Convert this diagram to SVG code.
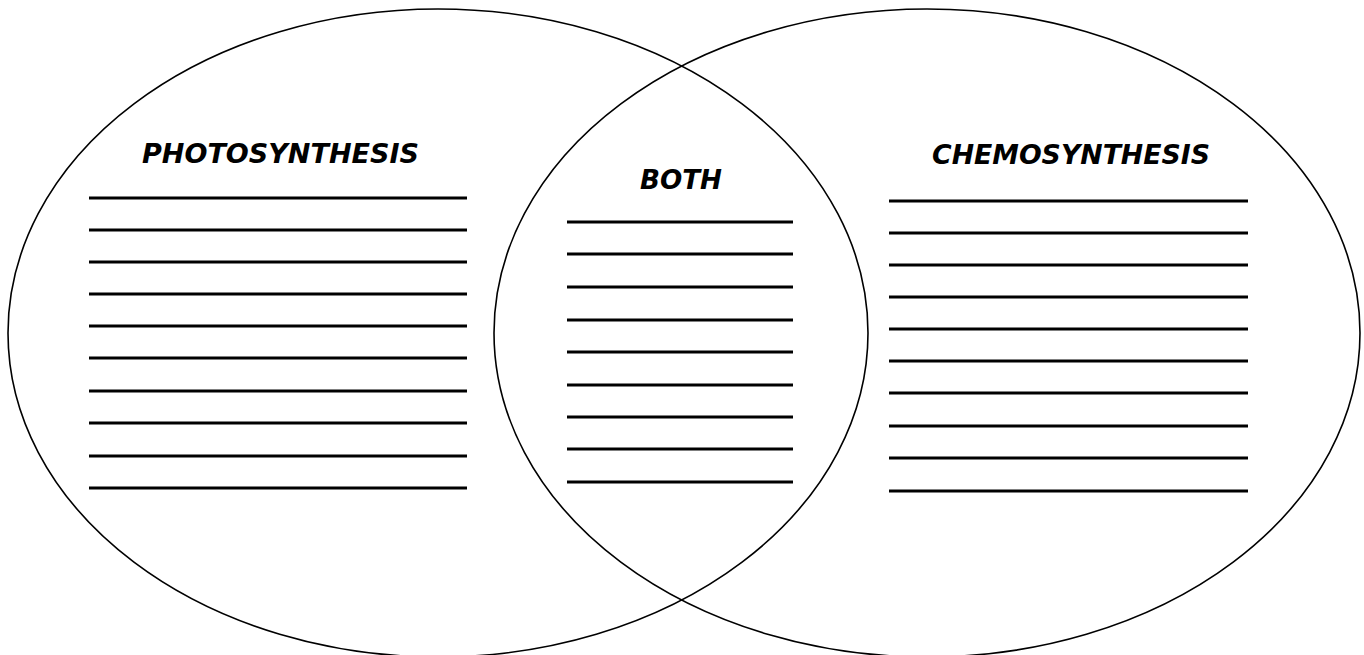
<svg xmlns="http://www.w3.org/2000/svg" width="1364" height="655" viewBox="0 0 1364 655">
<style>
.circ{fill:none;stroke:#000;stroke-width:1.6}
.ln{stroke:#000;stroke-width:3}
.lbl{font-family:"DejaVu Sans","Verdana",sans-serif;font-weight:bold;font-style:italic;font-size:27px;fill:#000}
</style>
<rect width="1364" height="655" fill="#fff"/>
<g id="photosynthesis">
<ellipse class="circ" cx="438" cy="333" rx="430" ry="324"/>
<text class="lbl" x="142" y="163" textLength="277" lengthAdjust="spacingAndGlyphs">PHOTOSYNTHESIS</text>
<g class="ln">
<line x1="89" y1="198" x2="467" y2="198"/>
<line x1="89" y1="230" x2="467" y2="230"/>
<line x1="89" y1="262" x2="467" y2="262"/>
<line x1="89" y1="294" x2="467" y2="294"/>
<line x1="89" y1="326" x2="467" y2="326"/>
<line x1="89" y1="358" x2="467" y2="358"/>
<line x1="89" y1="391" x2="467" y2="391"/>
<line x1="89" y1="423" x2="467" y2="423"/>
<line x1="89" y1="456" x2="467" y2="456"/>
<line x1="89" y1="488" x2="467" y2="488"/>
</g>
</g>
<g id="chemosynthesis">
<ellipse class="circ" cx="927" cy="333" rx="433" ry="324"/>
<text class="lbl" x="932" y="164" textLength="278" lengthAdjust="spacingAndGlyphs">CHEMOSYNTHESIS</text>
<g class="ln">
<line x1="889" y1="201" x2="1248" y2="201"/>
<line x1="889" y1="233" x2="1248" y2="233"/>
<line x1="889" y1="265" x2="1248" y2="265"/>
<line x1="889" y1="297" x2="1248" y2="297"/>
<line x1="889" y1="329" x2="1248" y2="329"/>
<line x1="889" y1="361" x2="1248" y2="361"/>
<line x1="889" y1="393" x2="1248" y2="393"/>
<line x1="889" y1="426" x2="1248" y2="426"/>
<line x1="889" y1="458" x2="1248" y2="458"/>
<line x1="889" y1="491" x2="1248" y2="491"/>
</g>
</g>
<g id="both">
<text class="lbl" x="640" y="189" textLength="82" lengthAdjust="spacingAndGlyphs">BOTH</text>
<g class="ln">
<line x1="567" y1="222" x2="793" y2="222"/>
<line x1="567" y1="254" x2="793" y2="254"/>
<line x1="567" y1="287" x2="793" y2="287"/>
<line x1="567" y1="320" x2="793" y2="320"/>
<line x1="567" y1="352" x2="793" y2="352"/>
<line x1="567" y1="385" x2="793" y2="385"/>
<line x1="567" y1="417" x2="793" y2="417"/>
<line x1="567" y1="449" x2="793" y2="449"/>
<line x1="567" y1="482" x2="793" y2="482"/>
</g>
</g>
</svg>
